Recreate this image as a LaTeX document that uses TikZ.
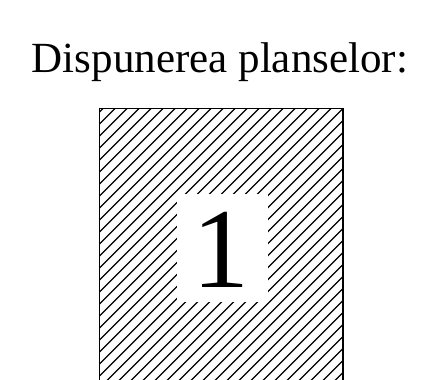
\documentclass[tikz,border=0pt]{standalone}
\usepackage{fontspec}
\setmainfont{Liberation Serif}
\begin{document}
\begin{tikzpicture}[x=1pt,y=1pt,
  frame/.style={draw=black,line width=1.8pt},
  hatch/.style={draw=black,line width=1.3pt},
  blank/.style={fill=white,draw=none,inner sep=0pt,minimum width=91.5pt,minimum height=107.5pt}]
\useasboundingbox (0,0) rectangle (424,380);
\node[font=\fontsize{43}{50}\selectfont,anchor=base] (title) at (220,307) {Dispunerea planselor:};
\begin{scope}
  \clip (99.5,-5) rectangle (343,271.5);
  \foreach \k in {-26,...,46} {
    \draw[hatch] ({103+12*\k-300},{271.5-300}) -- ({103+12*\k+30},{271.5+30});
  }
\end{scope}
\draw[frame] (99.5,-5) -- (99.5,271.5) -- (343,271.5) -- (343,-5);
\node[blank] (box) at (222.25,131.75) {};
\node[font=\fontsize{114}{120}\selectfont,anchor=base] (num) at (221,92) {1};
\end{tikzpicture}
\end{document}
